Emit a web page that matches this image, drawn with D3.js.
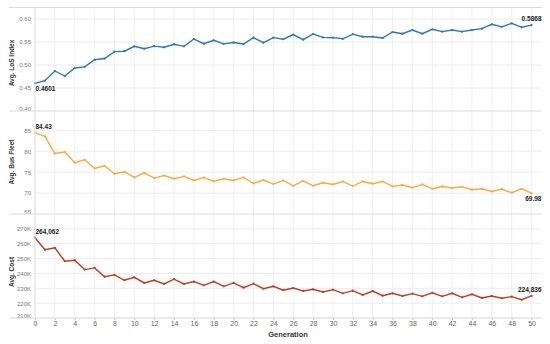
<!DOCTYPE html>
<html>
<head>
<meta charset="utf-8">
<script src="https://cdn.jsdelivr.net/npm/d3@7"></script>
<style>
  body { margin: 0; background: #fff; font-family: "Liberation Sans", Arial, sans-serif; }
</style>
</head>
<body>
<div id="chart"></div>
<script>
// Data (generations 0..50)
const generations = d3.range(0, 51);

const losIndex = [0.4601, 0.466, 0.487, 0.476, 0.4935, 0.496, 0.5115, 0.514, 0.529, 0.530,
    0.5406, 0.5355, 0.541, 0.5385, 0.545, 0.5406, 0.5565, 0.5463, 0.5536, 0.546,
    0.549, 0.5457, 0.5594, 0.5485, 0.5594, 0.556, 0.566, 0.555, 0.5674, 0.560,
    0.5594, 0.557, 0.567, 0.5615, 0.5615, 0.5587, 0.5717, 0.568, 0.576, 0.568,
    0.5776, 0.5725, 0.576, 0.5725, 0.576, 0.579, 0.5885, 0.583, 0.5906, 0.582, 0.5868];

const busFleet = [84.43, 83.52, 79.46, 79.79, 77.24, 77.95, 75.88, 76.52, 74.61, 75.09,
    73.73, 74.85, 73.58, 74.20, 73.42, 73.97, 73.01, 73.73, 72.77, 73.42,
    73.01, 73.73, 72.29, 73.11, 72.15, 73.01, 71.74, 72.94, 71.74, 72.46,
    72.06, 72.77, 71.67, 72.77, 72.22, 72.77, 71.58, 71.91, 71.27, 72.06,
    71.03, 71.58, 71.20, 71.50, 70.79, 71.03, 70.38, 70.96, 70.07, 71.03, 69.98];

const avgCost = [264062, 256000, 257200, 248200, 248900, 242600, 243700, 237800, 239000, 235400,
    237400, 233600, 235400, 232900, 236100, 232900, 234500, 232000, 234500, 231300,
    233600, 230400, 233100, 229700, 231300, 228700, 230200, 228200, 229300, 227500,
    229100, 226600, 228400, 225500, 228100, 225000, 226600, 224800, 226400, 224600,
    227000, 224600, 226600, 223900, 226000, 223500, 224800, 223300, 224400, 222300, 224836];

const xTicks = d3.range(0, 51, 2);
const losTicks = [0.40, 0.45, 0.50, 0.55, 0.60];
const fleetTicks = [65, 70, 75, 80, 85];
const costTicks = [210000, 220000, 230000, 240000, 250000, 260000, 270000];

const width = 550, height = 344;
const left = 35, right = 541.5, bottom = 318;

const svg = d3.select("#chart").append("svg").attr("width", width).attr("height", height);

const x = d3.scaleLinear().domain([0, 51]).range([left, right]);

// vertical gridlines across all panels
svg.append("g").selectAll("line").data(xTicks).enter().append("line")
    .attr("x1", d => x(d)).attr("x2", d => x(d))
    .attr("y1", 7.5).attr("y2", bottom)
    .attr("stroke", "#f0f0f0").attr("stroke-width", 1);

// Panel: one series with its own y scale
function drawPanel(values, domain, top, bot, ticks, fmt, color, title, titleY, firstLabel, lastLabel, lastAbove) {
    const y = d3.scaleLinear().domain(domain).range([bot, top]);

    // horizontal gridlines
    svg.append("g").selectAll("line").data(ticks.filter(t => t !== domain[0])).enter().append("line")
        .attr("x1", left).attr("x2", right)
        .attr("y1", d => y(d)).attr("y2", d => y(d))
        .attr("stroke", "#ececec").attr("stroke-width", 1);

    // separator at top of pane
    svg.append("line").attr("x1", 9).attr("x2", right).attr("y1", top).attr("y2", top)
        .attr("stroke", "#dcdcdc").attr("stroke-width", 1);

    // y axis labels
    const axis = d3.axisLeft(y).tickValues(ticks).tickFormat(fmt).tickSize(0).tickPadding(3);
    const g = svg.append("g").attr("transform", `translate(${left - 1},0)`).call(axis);
    g.select(".domain").remove();
    g.selectAll("text").attr("fill", "#777").style("font-size", "6px")
        .style("font-family", "Liberation Sans, Arial, sans-serif")
        .attr("dy", (d, i) => d === domain[0] ? "-0.05em" : "0.32em");

    // axis title
    svg.append("text").attr("transform", `translate(14,${titleY}) rotate(-90)`)
        .attr("text-anchor", "middle").attr("fill", "#333")
        .style("font-size", "6.5px").style("font-weight", "bold").text(title);

    const line = d3.line().x((d, i) => x(generations[i])).y(d => y(d));
    svg.append("path").datum(values)
        .attr("fill", "none").attr("stroke", color).attr("stroke-width", 1.4)
        .attr("d", line);

    svg.append("g").selectAll("circle").data(values).enter().append("circle")
        .attr("cx", (d, i) => x(generations[i])).attr("cy", d => y(d))
        .attr("r", 1.1).attr("fill", color);

    const n = values.length - 1;
    svg.append("text").attr("x", x(0) + 0.5).attr("y", y(values[0]) + firstLabel.dy)
        .attr("fill", "#222").style("font-size", "6.5px").style("font-weight", "bold")
        .text(firstLabel.text);
    svg.append("text").attr("x", right).attr("y", y(values[n]) + (lastAbove ? -4 : 8))
        .attr("text-anchor", "end")
        .attr("fill", "#222").style("font-size", "6.5px").style("font-weight", "bold")
        .text(lastLabel);
}

const fmtK = d => d3.format(",")(d / 1000) + "K";

drawPanel(losIndex, [0.40, 0.625], 7.5, 111, losTicks, d3.format(".2f"), "#2b78b4",
    "Avg. LoS Index", 63, { text: "0.4601", dy: 7.5 }, "0.5868", true);
drawPanel(busFleet, [65, 89.6], 111, 214, fleetTicks, d => d, "#fbaa3c",
    "Avg. Bus Fleet", 162, { text: "84.43", dy: -4 }, "69.98", false);
drawPanel(avgCost, [210000, 280000], 214, 318, costTicks, fmtK, "#c4391f",
    "Avg. Cost", 272, { text: "264,062", dy: -3.5 }, "224,836", true);

// bottom axis
svg.append("line").attr("x1", 9).attr("x2", right).attr("y1", bottom).attr("y2", bottom)
    .attr("stroke", "#d6d6d6").attr("stroke-width", 1);
svg.append("line").attr("x1", left).attr("x2", left).attr("y1", 7.5).attr("y2", bottom)
    .attr("stroke", "#e2e2e2").attr("stroke-width", 1);

const xg = svg.append("g").attr("transform", `translate(0,${bottom})`)
    .call(d3.axisBottom(x).tickValues(xTicks).tickSize(2).tickPadding(1.5));
xg.select(".domain").remove();
xg.selectAll("line").attr("stroke", "#ccc");
xg.selectAll("text").attr("fill", "#666").style("font-size", "7px")
    .style("font-family", "Liberation Sans, Arial, sans-serif");

svg.append("text").attr("x", 288).attr("y", 337).attr("text-anchor", "middle")
    .attr("fill", "#333").style("font-size", "7.5px").style("font-weight", "bold").text("Generation");
</script>
</body>
</html>
